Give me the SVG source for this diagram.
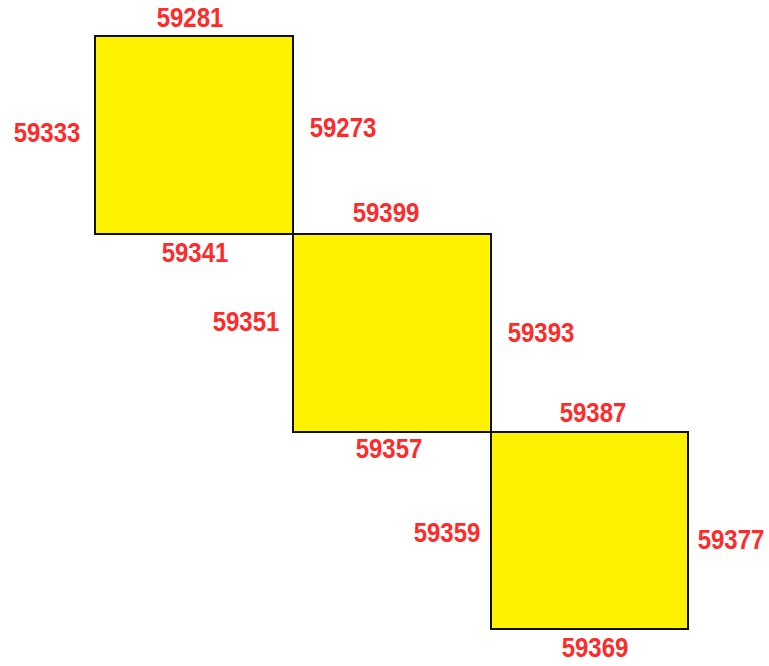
<svg xmlns="http://www.w3.org/2000/svg" width="769" height="666" viewBox="0 0 769 666">
<style>
.sq{fill:#fff200;stroke:#111;stroke-width:2}
.lb{font-family:"Liberation Sans",Arial,sans-serif;font-weight:bold;font-size:24px;fill:#ff2b2b;text-anchor:middle}
</style>
<rect x="0" y="0" width="769" height="666" fill="#fff"/>
<g id="connectors"></g>
<g id="sq1">
<rect class="sq" x="95" y="36" width="198" height="198"/>
<text class="lb" transform="translate(190,27) scale(1,1.15)">59281</text>
<text class="lb" transform="translate(47,142) scale(1,1.15)">59333</text>
<text class="lb" transform="translate(343,137) scale(1,1.15)">59273</text>
<text class="lb" transform="translate(195,262) scale(1,1.15)">59341</text>
</g>
<g id="sq2">
<rect class="sq" x="293" y="234" width="198" height="198"/>
<text class="lb" transform="translate(386,222) scale(1,1.15)">59399</text>
<text class="lb" transform="translate(246,331) scale(1,1.15)">59351</text>
<text class="lb" transform="translate(541,342) scale(1,1.15)">59393</text>
<text class="lb" transform="translate(389,458) scale(1,1.15)">59357</text>
</g>
<g id="sq3">
<rect class="sq" x="491" y="432" width="197" height="197"/>
<text class="lb" transform="translate(593,422) scale(1,1.15)">59387</text>
<text class="lb" transform="translate(447,542) scale(1,1.15)">59359</text>
<text class="lb" transform="translate(731,549) scale(1,1.15)">59377</text>
<text class="lb" transform="translate(595,657) scale(1,1.15)">59369</text>
</g>
</svg>
